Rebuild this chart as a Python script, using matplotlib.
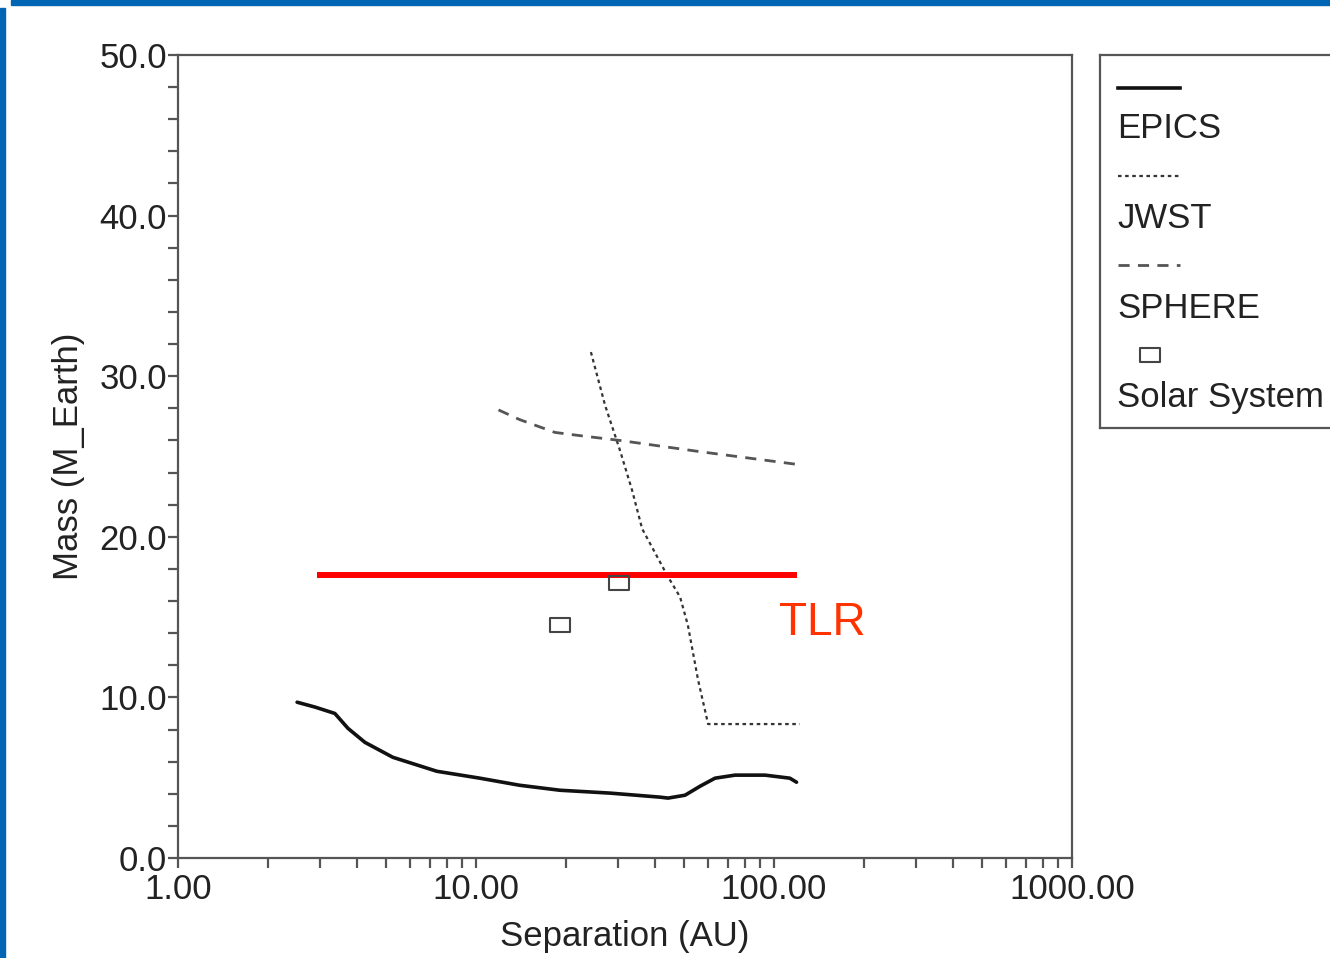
import matplotlib
matplotlib.use("Agg")
import matplotlib.pyplot as plt
from matplotlib.path import Path
from matplotlib.ticker import FixedLocator, FormatStrFormatter, LogLocator, NullFormatter, MultipleLocator
import matplotlib.patches as mpatches

plt.rcParams['font.family'] = ['Liberation Sans', 'DejaVu Sans']
FS = 25

# ---- data ----
epics_sep = [2.51, 2.88, 3.36, 3.72, 4.24, 5.26, 7.39, 10.3, 14.0, 19.1, 28.2, 41.4, 44.1, 50.3, 56.5, 63.4, 74.0, 93.3, 113.0, 119.0]
epics_mass = [9.7, 9.4, 9.0, 8.07, 7.2, 6.27, 5.4, 4.97, 4.53, 4.22, 4.04, 3.79, 3.73, 3.91, 4.47, 4.97, 5.16, 5.16, 4.97, 4.72]

jwst_sep = [24.3, 27.1, 30.4, 33.4, 36.1, 39.9, 43.8, 48.4, 51.4, 55.6, 60.1, 122.0]
jwst_mass = [31.5, 28.2, 25.4, 22.9, 20.5, 19.0, 17.6, 16.25, 14.5, 11.1, 8.34, 8.34]

sphere_sep = [11.9, 14.0, 18.4, 22.3, 30.4, 56.5, 120.5]
sphere_mass = [27.9, 27.3, 26.5, 26.3, 26.0, 25.3, 24.5]

solar_sep = [19.2, 30.1]
solar_mass = [14.5, 17.1]

tlr_sep = [2.93, 119.5]
tlr_mass = [17.6, 17.6]

x_ticks = [1, 10, 100, 1000]
y_ticks = [0, 10, 20, 30, 40, 50]

series_labels = ["EPICS", "JWST", "SPHERE", "Solar System"]

# ---- figure ----
fig = plt.figure(figsize=(13.3, 9.58), dpi=100)
W, H = 1330, 958

# slide frame (blue bars)
fig.patches.append(mpatches.Rectangle((11 / W, 1 - 5 / H), 1, 5 / H, transform=fig.transFigure,
                                      color='#0066b3', zorder=0))
fig.patches.append(mpatches.Rectangle((0, 0), 5 / W, 1 - 8 / H, transform=fig.transFigure,
                                      color='#0066b3', zorder=0))

ax = fig.add_axes([178 / W, 1 - 858 / H, (1072 - 178) / W, (858 - 55) / H])
ax.set_xscale('log')
ax.set_xlim(1, 1000)
ax.set_ylim(0, 50)

spine_col = '#555555'
for s in ax.spines.values():
    s.set_color(spine_col)
    s.set_linewidth(1.6)

ax.xaxis.set_major_locator(FixedLocator(x_ticks))
ax.xaxis.set_major_formatter(FormatStrFormatter('%.2f'))
ax.xaxis.set_minor_locator(LogLocator(base=10, subs=range(2, 10)))
ax.xaxis.set_minor_formatter(NullFormatter())
ax.yaxis.set_major_locator(FixedLocator(y_ticks))
ax.yaxis.set_major_formatter(FormatStrFormatter('%.1f'))
ax.yaxis.set_minor_locator(MultipleLocator(2))

ax.tick_params(axis='both', which='both', direction='out', color=spine_col, width=1.6,
               labelsize=FS, labelcolor='#222222')
ax.tick_params(axis='both', which='major', length=7)
ax.tick_params(axis='both', which='minor', length=7)
ax.tick_params(axis='x', which='major', pad=4)
ax.tick_params(axis='y', which='major', pad=1)

ax.set_xlabel('Separation (AU)', fontsize=FS, color='#222222', labelpad=10)
ax.set_ylabel('Mass (M_Earth)', fontsize=FS, color='#222222', labelpad=10)

# curves
ax.plot(epics_sep, epics_mass, color='#111111', lw=2.6, solid_capstyle='round')
ax.plot(jwst_sep, jwst_mass, color='#333333', lw=1.6, linestyle=(0, (1.6, 1.6)))
ax.plot(sphere_sep, sphere_mass, color='#555555', lw=2.0, linestyle=(0, (4, 3)))
ax.plot(tlr_sep, tlr_mass, color='#ff0000', lw=4.3, solid_capstyle='butt')

rect_marker = Path([(-1, -0.7), (1, -0.7), (1, 0.7), (-1, 0.7), (-1, -0.7)],
                   [Path.MOVETO, Path.LINETO, Path.LINETO, Path.LINETO, Path.CLOSEPOLY])
ax.plot(solar_sep, solar_mass, linestyle='none', marker=rect_marker, markersize=15,
        markerfacecolor='none', markeredgecolor='#444444', markeredgewidth=1.5)

ax.text(tlr_sep[1] * 0.87, tlr_mass[0] - 1.6, 'TLR', color='#ff3300', fontsize=33,
        ha='left', va='top')

# ---- legend (handle above label) ----
lax = fig.add_axes([1100 / W, 1 - 428 / H, 240 / W, (428 - 55) / H])
lax.set_xlim(1100, 1340)
lax.set_ylim(428, 55)
lax.set_xticks([])
lax.set_yticks([])
for s in lax.spines.values():
    s.set_color(spine_col)
    s.set_linewidth(1.6)

handle_y = [88, 176, 265, 355]
label_y = [129, 218, 309, 397]
lax.plot([1118, 1180], [handle_y[0]] * 2, color='#111111', lw=2.6)
lax.plot([1118, 1180], [handle_y[1]] * 2, color='#333333', lw=1.6, linestyle=(0, (1.6, 1.6)))
lax.plot([1118, 1180], [handle_y[2]] * 2, color='#555555', lw=2.0, linestyle=(0, (4, 3)))
lax.plot([1150], [handle_y[3]], linestyle='none', marker=rect_marker, markersize=15,
         markerfacecolor='none', markeredgecolor='#444444', markeredgewidth=1.5)
for lbl, yy in zip(series_labels, label_y):
    lax.text(1117, yy, lbl, fontsize=FS, color='#222222', ha='left', va='center')

fig.savefig('out.png', dpi=100)
